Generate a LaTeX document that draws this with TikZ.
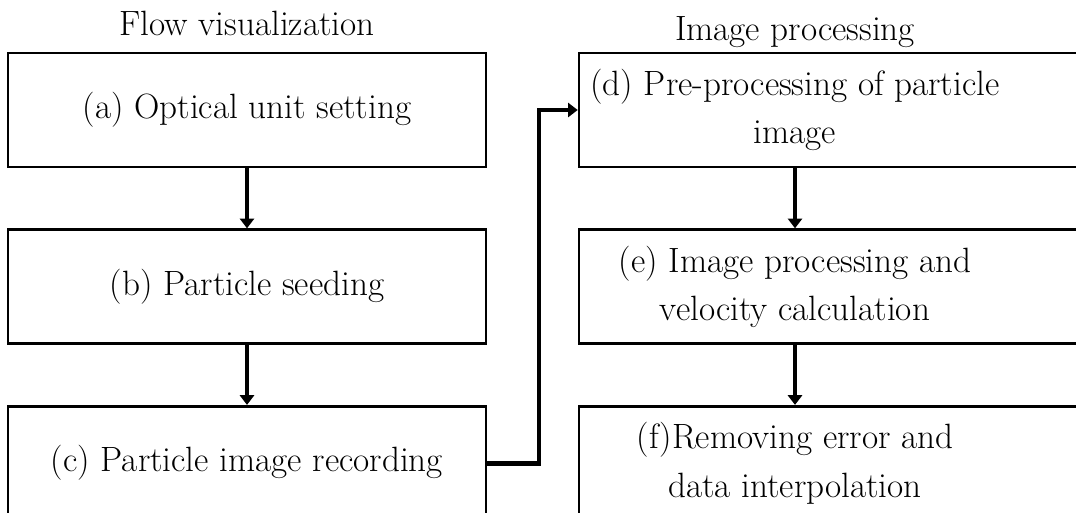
\documentclass[tikz,border=0pt]{standalone}
\usepackage{fontspec}
\usetikzlibrary{positioning,arrows.meta}

\tikzset{
  box/.style={draw, line width=1.5pt, minimum height=2.28cm, inner sep=0pt},
  lbl/.style={align=center, font=\fontsize{20}{27.5}\selectfont},
  flow/.style={line width=2.2pt, -{Triangle[length=5.5pt,width=8pt]}},
}

\begin{document}
\begin{tikzpicture}[x=0.02cm, y=-0.02cm, font=\fontsize{20}{27.5}\selectfont]
\useasboundingbox (0,0) rectangle (1076,512);
\clip (0,0) rectangle (1076,512);

% left column
\node[box, lbl, minimum width=9.56cm] (a) at (247,110) {(a) Optical unit setting};
\node[box, lbl, minimum width=9.56cm, below=1.2cm of a] (b) {(b) Particle seeding};
\node[box, lbl, minimum width=9.56cm, below=1.2cm of b] (c) {(c) Particle image recording};
\node[anchor=base] (fv) at (247,35) {Flow visualization};

% right column
\node[box, minimum width=10.2cm] (d) at (834,110) {};
\node[box, minimum width=10.2cm, below=1.2cm of d] (e) {};
\node[box, minimum width=10.2cm, below=1.2cm of e] (f) {};
\node[lbl] (dl) at ([xshift=-0.78cm]d.center) {(d) Pre-processing of particle\\image};
\node[lbl] (el) at ([xshift=-0.78cm]e.center) {(e) Image processing and\\velocity calculation};
\node[lbl] (fl) at ([xshift=-0.78cm]f.center) {(f)Removing error and\\data interpolation};
\node[anchor=base] (ip) at (795,40) {Image processing};

\draw[flow] (a) -- (b);
\draw[flow] (b) -- (c);
\draw[flow] (d.south -| dl) -- (e.north -| dl);
\draw[flow] (e.south -| dl) -- (f.north -| dl);

\coordinate (cd) at (539,0);
\draw[flow, line width=2.8pt] (c.east) -| (cd |- d.west) -- (d.west);
\end{tikzpicture}
\end{document}
